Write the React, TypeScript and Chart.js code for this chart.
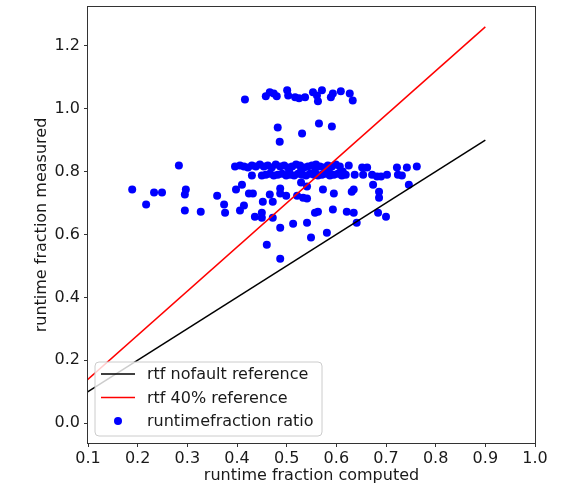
import React, { useEffect, useRef } from "react";
import { Chart, registerables } from "chart.js";

Chart.register(...registerables);

// Reference lines
const refX = [0.0, 0.9];
const nofaultY = [0.0, 0.9];
const fortyY = [0.0, 1.26];

// Scatter: runtimefraction ratio
const ratioX = [
  // top cluster
  0.416, 0.458, 0.466, 0.474, 0.480, 0.501, 0.503, 0.517, 0.525, 0.537, 0.553, 0.561, 0.563, 0.571, 0.589, 0.593, 0.609, 0.627, 0.633,
  // middle
  0.482, 0.486, 0.531, 0.565, 0.591,
  // isolated
  0.283,
  // band upper row
  0.396, 0.406, 0.414, 0.422, 0.430, 0.438, 0.446, 0.454, 0.462, 0.470, 0.478, 0.487, 0.495, 0.503, 0.511, 0.519, 0.527, 0.535, 0.543, 0.551, 0.559, 0.567, 0.575, 0.583, 0.591, 0.599, 0.607, 0.625, 0.652, 0.662, 0.722, 0.742, 0.762,
  // band lower row
  0.450, 0.458, 0.466, 0.474, 0.482, 0.491, 0.499, 0.507, 0.515, 0.523, 0.531, 0.539, 0.547, 0.555, 0.563, 0.571, 0.579, 0.587, 0.595, 0.603, 0.611, 0.619, 0.637, 0.654, 0.672, 0.682, 0.690, 0.702, 0.724, 0.732,
  // between rows
  0.505, 0.529, 0.557, 0.585, 0.613,
  // lower scatter
  0.189, 0.217, 0.233, 0.249, 0.297, 0.295, 0.295, 0.327, 0.360, 0.374, 0.376, 0.398, 0.410, 0.430, 0.424, 0.432, 0.414, 0.406, 0.436, 0.450,
  0.450, 0.466, 0.452, 0.472, 0.472, 0.487, 0.487, 0.499, 0.487, 0.513, 0.529, 0.521, 0.533, 0.541, 0.541, 0.541, 0.549, 0.557, 0.563, 0.460,
  0.487, 0.573, 0.595, 0.631, 0.635, 0.686, 0.686, 0.593, 0.621, 0.635, 0.684, 0.700, 0.641, 0.581, 0.746, 0.674,
];
const ratioY = [
  // top cluster
  1.029, 1.039, 1.052, 1.048, 1.039, 1.058, 1.042, 1.036, 1.033, 1.036, 1.052, 1.042, 1.023, 1.058, 1.036, 1.048, 1.055, 1.048, 1.026,
  // middle
  0.940, 0.895, 0.921, 0.953, 0.943,
  // isolated
  0.819,
  // band upper row
  0.816, 0.819, 0.816, 0.813, 0.819, 0.816, 0.822, 0.816, 0.819, 0.813, 0.822, 0.816, 0.819, 0.813, 0.816, 0.822, 0.819, 0.813, 0.816, 0.819, 0.822, 0.816, 0.813, 0.819, 0.816, 0.822, 0.816, 0.819, 0.813, 0.813, 0.813, 0.813, 0.816,
  // band lower row
  0.787, 0.790, 0.793, 0.787, 0.790, 0.793, 0.787, 0.790, 0.787, 0.793, 0.790, 0.787, 0.793, 0.790, 0.787, 0.790, 0.793, 0.787, 0.790, 0.793, 0.787, 0.790, 0.790, 0.790, 0.790, 0.784, 0.784, 0.790, 0.790, 0.787,
  // between rows
  0.801, 0.803, 0.800, 0.802, 0.800,
  // lower scatter
  0.743, 0.695, 0.733, 0.733, 0.743, 0.727, 0.676, 0.672, 0.723, 0.695, 0.669, 0.743, 0.758, 0.787, 0.730, 0.730, 0.692, 0.676, 0.656, 0.669,
  0.653, 0.727, 0.704, 0.704, 0.653, 0.746, 0.730, 0.723, 0.621, 0.634, 0.765, 0.723, 0.717, 0.714, 0.752, 0.637, 0.590, 0.669, 0.672, 0.567,
  0.523, 0.743, 0.730, 0.736, 0.743, 0.736, 0.717, 0.679, 0.672, 0.669, 0.669, 0.656, 0.637, 0.605, 0.758, 0.758,
];

const xTicks = [0.1, 0.2, 0.3, 0.4, 0.5, 0.6, 0.7, 0.8, 0.9, 1.0];
const yTicks = [0.0, 0.2, 0.4, 0.6, 0.8, 1.0, 1.2];

const labels = ["rtf nofault reference", "rtf 40% reference", "runtimefraction ratio"];

const FONT = "DejaVu Sans";
const FS = 16;
const TXT = "#1a1a1a";

const framePlugin = {
  id: "frameAndLegend",
  afterDraw(chart: any) {
    const { ctx, chartArea } = chart;
    const { left, top, right, bottom } = chartArea;
    ctx.save();
    // spines
    ctx.strokeStyle = "#333";
    ctx.lineWidth = 1;
    ctx.strokeRect(Math.round(left) - 0.5, Math.round(top) - 0.5, Math.round(right - left) + 1, Math.round(bottom - top) + 1);

    // legend (lower left, inside axes)
    const bx = left + 7;
    const by = bottom - 7 - 74;
    const bw = 227;
    const bh = 74;
    const r = 4;
    ctx.beginPath();
    ctx.moveTo(bx + r, by);
    ctx.lineTo(bx + bw - r, by);
    ctx.quadraticCurveTo(bx + bw, by, bx + bw, by + r);
    ctx.lineTo(bx + bw, by + bh - r);
    ctx.quadraticCurveTo(bx + bw, by + bh, bx + bw - r, by + bh);
    ctx.lineTo(bx + r, by + bh);
    ctx.quadraticCurveTo(bx, by + bh, bx, by + bh - r);
    ctx.lineTo(bx, by + r);
    ctx.quadraticCurveTo(bx, by, bx + r, by);
    ctx.closePath();
    ctx.fillStyle = "rgba(255,255,255,0.8)";
    ctx.fill();
    ctx.strokeStyle = "#cccccc";
    ctx.lineWidth = 1;
    ctx.stroke();

    const ds = chart.data.datasets;
    ctx.font = `${FS}px "${FONT}"`;
    ctx.textBaseline = "middle";
    ctx.textAlign = "left";
    for (let i = 0; i < ds.length; i++) {
      const d = ds[i];
      const ry = by + 12 + i * 23.5;
      if (d.type === "line") {
        ctx.strokeStyle = d.borderColor;
        ctx.lineWidth = 1.5;
        ctx.beginPath();
        ctx.moveTo(bx + 6, ry);
        ctx.lineTo(bx + 40, ry);
        ctx.stroke();
      } else {
        ctx.fillStyle = d.backgroundColor;
        ctx.beginPath();
        ctx.arc(bx + 23, ry, 4, 0, Math.PI * 2);
        ctx.fill();
      }
      ctx.fillStyle = TXT;
      ctx.fillText(d.label, bx + 52, ry + 1);
    }
    ctx.restore();
  },
};

export default function App() {
  const ref = useRef<HTMLCanvasElement | null>(null);
  useEffect(() => {
    document.body.style.margin = "0";
    const canvas = ref.current!;
    const chart = new Chart(canvas, {
      type: "scatter",
      data: {
        datasets: [
          {
            type: "line",
            label: labels[0],
            data: refX.map((x, i) => ({ x, y: nofaultY[i] })),
            borderColor: "#000000",
            backgroundColor: "#000000",
            borderWidth: 1.5,
            pointRadius: 0,
            order: 0,
          },
          {
            type: "line",
            label: labels[1],
            data: refX.map((x, i) => ({ x, y: fortyY[i] })),
            borderColor: "#ff0000",
            backgroundColor: "#ff0000",
            borderWidth: 1.5,
            pointRadius: 0,
            order: 0,
          },
          {
            type: "scatter",
            label: labels[2],
            data: ratioX.map((x, i) => ({ x, y: ratioY[i] })),
            backgroundColor: "#0000ff",
            borderColor: "#0000ff",
            borderWidth: 0,
            pointRadius: 4,
            order: 1,
          },
        ] as any,
      },
      options: {
        animation: false,
        responsive: false,
        layout: { padding: { left: 0, top: 7, right: 28, bottom: 0 } },
        plugins: { legend: { display: false }, tooltip: { enabled: false } },
        scales: {
          x: {
            type: "linear",
            min: 0.1,
            max: 1.0,
            afterFit: (s: any) => { s.height = 41; s.paddingLeft = 0; s.paddingRight = 0; },
            afterBuildTicks: (s: any) => { s.ticks = xTicks.map((v) => ({ value: v })); },
            ticks: {
              autoSkip: false,
              maxRotation: 0,
              padding: 2,
              color: TXT,
              font: { family: FONT, size: FS },
              callback: (v: any) => Number(v).toFixed(1),
            },
            grid: { drawOnChartArea: false, drawTicks: true, tickLength: 4, color: "#333" },
            border: { display: false },
            title: {
              display: true,
              text: "runtime fraction computed",
              color: TXT,
              font: { family: FONT, size: FS },
              padding: { top: 0, bottom: -1 },
            },
          },
          y: {
            type: "linear",
            min: -0.063,
            max: 1.323,
            afterFit: (s: any) => { s.width = 88; s.paddingTop = 0; s.paddingBottom = 0; },
            afterBuildTicks: (s: any) => { s.ticks = yTicks.map((v) => ({ value: v })); },
            ticks: {
              autoSkip: false,
              padding: 4,
              color: TXT,
              font: { family: FONT, size: FS },
              callback: (v: any) => Number(v).toFixed(1),
            },
            grid: { drawOnChartArea: false, drawTicks: true, tickLength: 4, color: "#333" },
            border: { display: false },
            title: {
              display: true,
              text: "runtime fraction measured",
              color: TXT,
              font: { family: FONT, size: FS },
              padding: { top: 32, bottom: 0 },
            },
          },
        },
      },
      plugins: [framePlugin],
    } as any);
    return () => chart.destroy();
  }, []);
  return (
    <div style={{ position: "absolute", left: 0, top: 0, width: 563, height: 484 }}>
      <canvas ref={ref} width={563} height={484} style={{ display: "block" }} />
    </div>
  );
}
